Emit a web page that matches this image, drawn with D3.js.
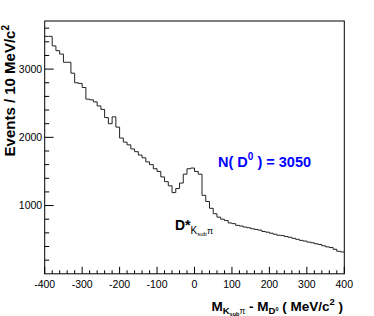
<!DOCTYPE html>
<html>
<head>
<meta charset="utf-8">
<script src="https://cdn.jsdelivr.net/npm/d3@7"></script>
<style>
  body { margin: 0; background: #fff; }
  svg { display: block; font-family: "Liberation Sans", Arial, sans-serif; }
</style>
</head>
<body>
<svg id="chart" width="374" height="316"></svg>
<script>
// bin edges: 80 bins of 10 MeV from -400 to 400
var binLow = -400, binWidth = 10;
var counts = [
  3480, 3480, 3340, 3270, 3220, 3100, 3100, 2940, 2800, 2790,
  2730, 2560, 2550, 2520, 2460, 2410, 2290, 2200, 2300, 2150,
  1990, 1930, 1890, 1830, 1790, 1740, 1700, 1640, 1600, 1540,
  1500, 1420, 1350, 1290, 1190, 1250, 1330, 1460, 1540, 1550,
  1500, 1460, 1150, 1060, 960, 880, 830, 800, 780, 745,
  735, 710, 700, 685, 675, 660, 650, 640, 620, 610,
  595, 580, 565, 560, 545, 535, 520, 505, 490, 480,
  465, 455, 440, 430, 410, 395, 385, 360, 330, 320
];
var xMajorTicks = [-400, -300, -200, -100, 0, 100, 200, 300, 400];
var yMajorTicks = [1000, 2000, 3000];

var svg = d3.select("#chart");
var plotLeft = 44.7, plotRight = 344.3, plotTop = 21, plotBottom = 273.8;

var xScale = d3.scaleLinear().domain([-400, 400]).range([plotLeft, plotRight]);
var yScale = d3.scaleLinear().domain([0, 3705]).range([plotBottom, plotTop]);

// frame
svg.append("rect")
    .attr("x", plotLeft).attr("y", plotTop)
    .attr("width", plotRight - plotLeft).attr("height", plotBottom - plotTop)
    .attr("fill", "none").attr("stroke", "#000").attr("stroke-width", 1);

// x ticks (inward), minor every 20
var xMinor = d3.range(-400, 401, 20);
svg.append("g").selectAll("line")
    .data(xMinor)
    .enter().append("line")
    .attr("x1", function (d) { return xScale(d); })
    .attr("x2", function (d) { return xScale(d); })
    .attr("y1", plotBottom)
    .attr("y2", function (d) { return d % 100 == 0 ? plotBottom - 7 : plotBottom - 3.5; })
    .attr("stroke", "#000");

svg.append("g").selectAll("text")
    .data(xMajorTicks)
    .enter().append("text")
    .attr("x", function (d) { return xScale(d); })
    .attr("y", 288)
    .attr("text-anchor", "middle")
    .attr("font-size", "10.5px")
    .text(function (d) { return d; });

// y ticks (inward), minor every 200
var yMinor = d3.range(200, 3701, 200);
svg.append("g").selectAll("line")
    .data(yMinor)
    .enter().append("line")
    .attr("y1", function (d) { return yScale(d); })
    .attr("y2", function (d) { return yScale(d); })
    .attr("x1", plotLeft)
    .attr("x2", function (d) { return d % 1000 == 0 ? plotLeft + 9 : plotLeft + 4.5; })
    .attr("stroke", "#000");

svg.append("g").selectAll("text")
    .data(yMajorTicks)
    .enter().append("text")
    .attr("x", plotLeft - 2.5)
    .attr("y", function (d) { return yScale(d); })
    .attr("dy", "0.36em")
    .attr("text-anchor", "end")
    .attr("font-size", "10.5px")
    .text(function (d) { return d; });

// histogram as steps
var pts = [];
counts.forEach(function (c, i) {
    var x0 = binLow + i * binWidth;
    pts.push([x0, c]);
    pts.push([x0 + binWidth, c]);
});
var line = d3.line()
    .x(function (d) { return xScale(d[0]); })
    .y(function (d) { return yScale(d[1]); });
svg.append("path")
    .datum(pts)
    .attr("d", line)
    .attr("fill", "none")
    .attr("stroke", "#222")
    .attr("stroke-width", 1);

// y axis title
var yt = svg.append("text")
    .attr("transform", "translate(15," + (plotTop + 4) + ") rotate(-90)")
    .attr("text-anchor", "end")
    .attr("font-size", "15px")
    .attr("font-weight", "bold");
yt.append("tspan").text("Events / 10 MeV/c");
yt.append("tspan").attr("dy", -6).attr("font-size", "10px").text("2");

// x axis title
var xt = svg.append("text")
    .attr("x", 343).attr("y", 311)
    .attr("text-anchor", "end")
    .attr("font-size", "13.5px")
    .attr("font-weight", "bold");
xt.append("tspan").text("M");
xt.append("tspan").attr("dy", 3).attr("font-size", "9.5px").text("K");
xt.append("tspan").attr("dy", 2).attr("font-size", "5.5px").text("sub");
xt.append("tspan").attr("dy", -2).attr("font-size", "8.5px").attr("font-weight", "normal").text("\u03c0");
xt.append("tspan").attr("dy", -3).text(" - M");
xt.append("tspan").attr("dy", 3).attr("font-size", "9.5px").text("D");
xt.append("tspan").attr("dy", -3).attr("font-size", "5.5px").text("0");
xt.append("tspan").attr("dy", 0).text(" ( MeV/c");
xt.append("tspan").attr("dy", -6).attr("font-size", "9.5px").text("2");
xt.append("tspan").attr("dy", 6).text(" )");

// yield annotation
var nt = svg.append("text")
    .attr("x", 218).attr("y", 166.5)
    .attr("fill", "#0000ff")
    .attr("font-size", "14.5px")
    .attr("font-weight", "bold");
nt.append("tspan").text("N( D");
nt.append("tspan").attr("dy", -7).attr("font-size", "10px").text("0");
nt.append("tspan").attr("dy", 7).text(" ) = 3050");

// peak label
var pl = svg.append("text")
    .attr("x", 175).attr("y", 230)
    .attr("font-size", "14px")
    .attr("font-weight", "bold");
pl.append("tspan").text("D*");
pl.append("tspan").attr("dy", 4).attr("font-size", "10px").attr("font-weight", "normal").text("K");
pl.append("tspan").attr("dy", 2).attr("font-size", "6px").attr("font-weight", "normal").text("sub");
pl.append("tspan").attr("dy", -2).attr("font-size", "9px").attr("font-weight", "normal").text("\u03c0");
</script>
</body>
</html>
